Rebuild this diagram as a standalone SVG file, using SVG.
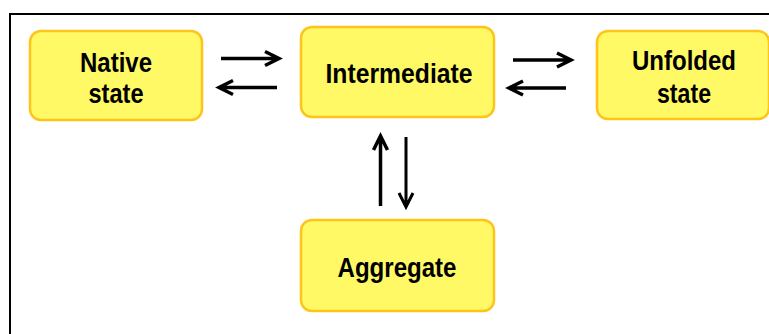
<svg xmlns="http://www.w3.org/2000/svg" width="769" height="334" viewBox="0 0 769 334">
<style>
.box{fill:#FFF966;stroke:#FFC41A;stroke-width:2.5}
.lbl{font-family:"Liberation Sans",Arial,sans-serif;font-weight:bold;font-size:27.5px;fill:#000;text-anchor:middle}
.arr{fill:none;stroke:#000;stroke-width:3.5;stroke-linecap:butt;stroke-linejoin:miter}
</style>
<rect width="769" height="334" fill="#fff"/>
<rect x="10" y="14" width="775" height="340" fill="none" stroke="#000" stroke-width="2"/>
<g id="native">
<rect class="box" x="30" y="31" width="172" height="89" rx="11"/>
<text class="lbl" x="116" y="72" textLength="72" lengthAdjust="spacingAndGlyphs">Native</text>
<text class="lbl" x="116" y="103" textLength="55" lengthAdjust="spacingAndGlyphs">state</text>
</g>
<g id="intermediate">
<rect class="box" x="301" y="27" width="193" height="90" rx="11"/>
<text class="lbl" x="399" y="83" textLength="147" lengthAdjust="spacingAndGlyphs">Intermediate</text>
</g>
<g id="unfolded">
<rect class="box" x="597" y="31" width="172" height="88" rx="11"/>
<text class="lbl" x="684" y="70" textLength="104" lengthAdjust="spacingAndGlyphs">Unfolded</text>
<text class="lbl" x="684" y="103" textLength="54" lengthAdjust="spacingAndGlyphs">state</text>
</g>
<g id="aggregate">
<rect class="box" x="301" y="220" width="193" height="91" rx="11"/>
<text class="lbl" x="397" y="277" textLength="119" lengthAdjust="spacingAndGlyphs">Aggregate</text>
</g>
<g id="connectors">
<path class="arr" d="M221 58.5H279M265 51.5L279 58.5L265 65.5"/>
<path class="arr" d="M277 87.5H219M233 80.5L219 87.5L233 94.5"/>
<path class="arr" d="M513 60H571M557 53L571 60L557 67"/>
<path class="arr" d="M566 88H509M523 81L509 88L523 95"/>
<path class="arr" d="M380.5 206V136M373.5 150L380.5 136L387.5 150"/>
<path class="arr" d="M406 137V207M399 193L406 207L413 193" style="stroke-width:3"/>
</g>
</svg>
